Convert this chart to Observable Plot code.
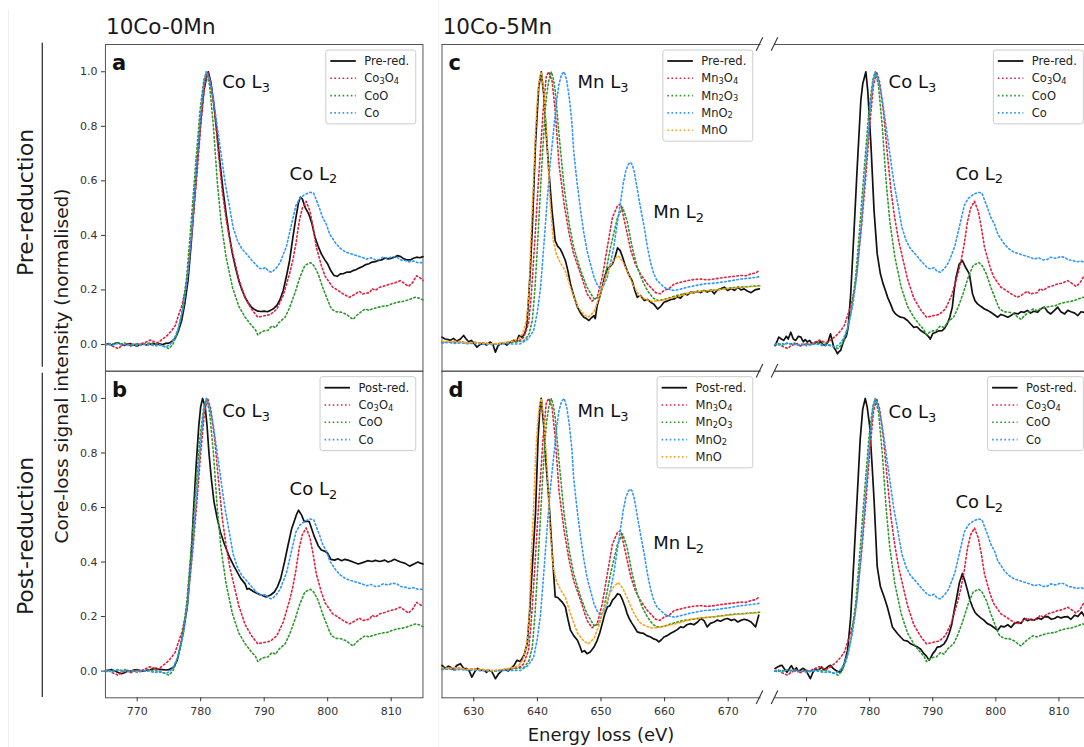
<!DOCTYPE html>
<html><head><meta charset="utf-8">
<script src="https://cdn.jsdelivr.net/npm/d3@7"></script>
<script src="https://cdn.jsdelivr.net/npm/@observablehq/plot@0.6"></script>
<style>
html,body{margin:0;padding:0;background:#fff;overflow:hidden;}
#fig{position:relative;width:1084px;height:747px;overflow:hidden;background:#fff;font-family:"DejaVu Sans";}
</style></head><body><div id="fig"></div>
<script>
// ---------- reference spectra (Co L edge) ----------
const co3o4 = [[765,0.0],[765.5,0.005],[766,-0.005],[766.5,-0.01],[767,-0.015],[767.5,-0.005],[768,0.0],[768.5,0.003],[769,-0.006],[769.5,0.0],[770,0.002],[770.5,0.0],[771,0.006],[771.5,0.01],[772,0.016],[772.5,0.012],[773,0.006],[773.5,0.01],[774,0.02],[774.6,0.03],[775.4,0.05],[776,0.07],[776.4,0.1],[777,0.14],[777.6,0.2],[778,0.27],[778.7,0.43],[779.4,0.62],[780,0.8],[780.6,0.95],[781.1,1.0],[781.6,0.96],[782.2,0.85],[782.8,0.7],[783.4,0.56],[784,0.46],[784.6,0.38],[785.3,0.31],[786,0.24],[787,0.17],[788,0.13],[789,0.1],[790,0.105],[791,0.11],[792,0.13],[793,0.18],[794,0.26],[794.5,0.308],[795,0.37],[795.5,0.45],[796,0.5],[796.6,0.525],[797.2,0.49],[797.7,0.43],[798.2,0.357],[799,0.29],[799.6,0.25],[800.8,0.21],[801.5,0.2],[802.4,0.186],[803.4,0.173],[804,0.18],[805,0.195],[805.5,0.185],[806,0.188],[806.6,0.19],[807,0.205],[807.5,0.198],[808.2,0.21],[809,0.215],[809.8,0.222],[810.5,0.225],[811.4,0.234],[812,0.225],[812.7,0.213],[813.3,0.225],[814,0.252],[814.5,0.245],[815,0.235]];
const coo = [[765,0.0],[765.5,-0.003],[766,0.004],[766.5,0.0],[767,0.005],[767.5,0.002],[768,0.006],[768.5,0.0],[769,-0.004],[769.5,0.0],[770,0.003],[770.5,-0.002],[771,0.0],[771.5,0.004],[772,0.006],[772.5,0.0],[773,0.002],[773.5,-0.003],[774,-0.005],[774.5,-0.01],[775,-0.015],[775.6,0.0],[776.3,0.04],[777,0.11],[777.8,0.25],[778.5,0.45],[779.2,0.66],[779.9,0.86],[780.5,0.97],[780.9,1.0],[781.4,0.95],[782,0.8],[782.6,0.6],[783.2,0.45],[784,0.32],[785,0.21],[786,0.14],[787,0.1],[788,0.07],[788.6,0.055],[789,0.035],[789.5,0.045],[790,0.05],[790.6,0.052],[791.2,0.068],[791.8,0.062],[792.3,0.08],[793.3,0.1],[794,0.135],[794.8,0.186],[795.6,0.245],[796.4,0.29],[797.3,0.3],[797.8,0.29],[798.5,0.259],[799.2,0.21],[799.6,0.186],[800.3,0.145],[800.6,0.13],[801.3,0.12],[802.2,0.118],[803,0.11],[803.5,0.1],[804,0.092],[804.5,0.105],[805,0.115],[805.9,0.13],[806.5,0.125],[807,0.13],[808,0.137],[808.7,0.14],[809.4,0.142],[810.1,0.149],[811,0.155],[811.9,0.158],[812.5,0.162],[813.2,0.168],[813.8,0.173],[814.4,0.17],[815,0.163]];
const coMetal = [[765,0.0],[765.5,0.004],[766,-0.005],[766.5,0.002],[767,0.005],[767.5,0.0],[768,0.0],[768.5,-0.003],[769,0.002],[769.5,0.0],[770,-0.005],[770.5,0.0],[771,0.002],[771.5,0.0],[772,0.0],[772.5,-0.004],[773,-0.005],[773.5,0.0],[774,-0.006],[774.6,-0.008],[775.2,0.0],[775.8,0.02],[776.5,0.06],[777.3,0.14],[778,0.26],[778.7,0.44],[779.4,0.66],[780,0.84],[780.5,0.96],[780.9,1.0],[781.4,0.97],[782,0.9],[782.6,0.8],[783.2,0.7],[783.8,0.6],[784.5,0.51],[785.1,0.43],[785.8,0.38],[786.5,0.35],[787.3,0.33],[788,0.31],[788.6,0.295],[789.2,0.28],[789.7,0.277],[790.2,0.282],[790.7,0.268],[791.2,0.265],[791.9,0.28],[792.5,0.3],[793,0.33],[793.5,0.36],[794,0.41],[794.5,0.46],[795,0.51],[795.6,0.535],[796.4,0.55],[797.2,0.558],[797.8,0.555],[798.2,0.53],[798.7,0.5],[799.2,0.466],[799.8,0.44],[800.3,0.405],[801.3,0.37],[802,0.352],[802.9,0.338],[803.6,0.333],[804.5,0.326],[805.4,0.32],[806.1,0.313],[806.8,0.318],[807.5,0.31],[808.2,0.312],[808.7,0.32],[809.5,0.316],[810.2,0.322],[810.9,0.32],[811.5,0.31],[812.2,0.308],[812.8,0.303],[813.5,0.306],[814.2,0.3],[815,0.3]];
// ---------- reference spectra (Mn L edge) ----------
const mn3o4 = [[625,0.01],[626,0.008],[627,0.012],[628,0.01],[629,0.005],[630,0.008],[631,0.006],[632,0.004],[633,0.0],[634,0.002],[635,0.006],[636,0.01],[637,0.012],[637.8,0.025],[638.6,0.076],[639,0.17],[639.4,0.31],[639.8,0.46],[640.2,0.613],[640.6,0.75],[640.9,0.857],[641.4,0.985],[641.8,1.0],[642.3,0.967],[642.8,0.857],[643.4,0.66],[644.2,0.515],[645,0.405],[645.7,0.332],[646.8,0.259],[647.8,0.186],[648.6,0.159],[649.4,0.173],[650.2,0.247],[651,0.357],[651.8,0.466],[652.6,0.509],[653.1,0.515],[653.9,0.43],[654.7,0.344],[655.4,0.295],[656.2,0.259],[657.3,0.222],[658.6,0.19],[659.3,0.186],[659.9,0.198],[660.7,0.205],[661.5,0.222],[662.5,0.228],[663.6,0.234],[664.6,0.238],[665.7,0.24],[666.7,0.237],[667.8,0.24],[668.8,0.244],[669.9,0.247],[671,0.25],[672,0.253],[672.8,0.252],[673.6,0.259],[674.3,0.262],[675,0.273]];
const mn2o3 = [[625,0.008],[626,0.01],[627,0.006],[628,0.008],[629,0.004],[630,0.006],[631,0.004],[632,0.002],[633,0.0],[634,0.003],[635,0.005],[636,0.008],[637,0.01],[638,0.015],[638.7,0.04],[639.2,0.088],[639.6,0.2],[640,0.357],[640.4,0.53],[640.8,0.698],[641.1,0.81],[641.4,0.906],[641.8,0.97],[642.2,1.0],[642.5,0.975],[642.8,0.93],[643.4,0.77],[644.2,0.576],[645,0.442],[645.7,0.357],[646.8,0.271],[647.8,0.21],[648.9,0.167],[649.7,0.173],[650.5,0.234],[651.5,0.357],[652.6,0.466],[653.4,0.503],[654.1,0.454],[654.9,0.357],[655.7,0.283],[656.5,0.234],[657.3,0.198],[658.2,0.17],[659,0.161],[660,0.165],[661,0.173],[662,0.18],[663,0.186],[664.5,0.19],[666,0.196],[667.5,0.198],[669,0.203],[670.5,0.208],[672,0.21],[673.5,0.213],[675,0.216]];
const mno2 = [[625,0.005],[626,0.008],[627,0.004],[628,0.006],[629,0.003],[630,0.004],[631,0.002],[632,0.0],[633,0.002],[634,0.0],[635,0.003],[636,0.002],[637.3,0.002],[638.5,0.02],[639.4,0.05],[640,0.12],[640.5,0.21],[641,0.36],[641.5,0.515],[642,0.66],[642.6,0.796],[643,0.89],[643.4,0.955],[643.8,0.99],[644.2,1.0],[644.6,0.97],[645,0.906],[645.4,0.82],[645.7,0.71],[646.2,0.6],[646.8,0.49],[647.3,0.41],[647.8,0.344],[648.4,0.29],[648.9,0.247],[649.4,0.22],[649.9,0.204],[650.4,0.215],[651,0.247],[651.5,0.3],[652,0.357],[652.6,0.45],[653.1,0.527],[653.5,0.59],[653.9,0.637],[654.3,0.66],[654.6,0.668],[654.9,0.66],[655.2,0.637],[655.7,0.57],[656.2,0.503],[656.8,0.43],[657.3,0.357],[657.8,0.3],[658.3,0.259],[658.8,0.235],[659.4,0.222],[659.9,0.21],[660.4,0.204],[661,0.2],[661.5,0.198],[662.5,0.203],[663.6,0.21],[664.6,0.215],[665.5,0.219],[666.2,0.222],[667.5,0.224],[668.8,0.228],[670,0.232],[671,0.236],[672,0.24],[673.2,0.243],[674.6,0.247],[675,0.25]];
const mno = [[625,0.012],[626,0.01],[627,0.012],[628,0.009],[629,0.006],[630,0.008],[631,0.005],[632,0.004],[633,0.002],[634,0.005],[635,0.008],[636,0.012],[637,0.02],[637.7,0.04],[638.3,0.09],[638.7,0.2],[639,0.4],[639.4,0.6],[639.7,0.78],[640,0.9],[640.3,0.97],[640.6,1.0],[641,0.93],[641.5,0.75],[642,0.52],[642.5,0.38],[643,0.33],[643.6,0.3],[644.4,0.27],[645.2,0.21],[646.3,0.14],[647.3,0.11],[648,0.1],[648.9,0.12],[649.7,0.17],[650.5,0.23],[651.3,0.28],[652,0.31],[652.7,0.325],[653.4,0.305],[654.1,0.27],[655,0.22],[656,0.18],[657,0.165],[658,0.158],[659,0.16],[660,0.165],[661,0.17],[662,0.175],[663,0.182],[664,0.19],[665,0.193],[666,0.195],[667,0.198],[668,0.2],[669,0.202],[670,0.205],[671,0.207],[672,0.21],[673.5,0.212],[675,0.215]];
// ---------- measured spectra ----------
const preRed0Mn = [[765,0.0],[765.5,0.003],[766,-0.002],[766.5,0.004],[767,0.006],[767.5,0.0],[768,-0.004],[768.5,0.002],[769,0.003],[769.5,-0.002],[770,-0.006],[770.5,0.0],[771,0.002],[771.5,-0.002],[772,0.001],[772.5,0.004],[773,0.0],[773.5,0.002],[774,0.0],[774.5,0.004],[775,0.005],[775.5,0.012],[776,0.023],[776.5,0.05],[777,0.088],[777.5,0.15],[778,0.234],[778.5,0.37],[779,0.527],[779.5,0.68],[780,0.82],[780.5,0.93],[781,0.99],[781.2,1.0],[781.6,0.96],[782,0.894],[782.5,0.79],[783,0.674],[783.5,0.57],[784,0.479],[784.5,0.4],[785,0.332],[785.5,0.28],[786,0.234],[786.5,0.2],[787,0.173],[787.5,0.152],[788,0.137],[788.5,0.128],[789,0.122],[789.5,0.121],[790,0.122],[790.5,0.12],[791,0.125],[791.5,0.132],[792,0.143],[792.5,0.165],[793,0.198],[793.5,0.25],[794,0.308],[794.5,0.39],[795,0.466],[795.4,0.52],[795.7,0.54],[796,0.534],[796.5,0.5],[797,0.479],[797.5,0.445],[798,0.393],[798.5,0.36],[799,0.332],[799.5,0.312],[800,0.295],[800.5,0.27],[801,0.253],[801.5,0.25],[802,0.259],[802.5,0.26],[803,0.265],[803.5,0.265],[804,0.271],[804.5,0.275],[805,0.281],[805.5,0.286],[806,0.293],[806.5,0.296],[807,0.302],[807.5,0.304],[808,0.308],[808.5,0.31],[809,0.317],[809.5,0.314],[810,0.316],[810.5,0.32],[811,0.326],[811.5,0.322],[812,0.314],[812.5,0.31],[813,0.31],[813.5,0.316],[814,0.32],[814.5,0.318],[815,0.322]];
const postRed0Mn = [[765,0.0],[765.5,0.004],[766,0.005],[766.5,0.0],[767,-0.005],[767.5,-0.01],[768,-0.006],[768.5,0.0],[769,0.0],[769.5,0.004],[770,0.005],[770.5,0.002],[771,0.0],[771.5,0.003],[772,0.005],[772.5,0.008],[773,0.01],[773.5,0.006],[774,0.005],[774.5,0.004],[775,0.005],[775.4,0.01],[775.8,0.015],[776.3,0.04],[776.8,0.09],[777.3,0.15],[777.9,0.24],[778.5,0.42],[778.9,0.6],[779.3,0.76],[779.7,0.9],[780,0.97],[780.3,1.0],[780.7,0.97],[781,0.9],[781.3,0.8],[781.7,0.7],[782.1,0.62],[782.6,0.56],[783.1,0.51],[783.7,0.468],[784.5,0.42],[785.3,0.382],[786.3,0.34],[787,0.32],[787.3,0.3],[787.6,0.303],[788.3,0.292],[788.9,0.285],[789.5,0.279],[790,0.275],[790.3,0.272],[791,0.279],[791.6,0.29],[792.1,0.31],[792.6,0.34],[793.2,0.4],[793.7,0.456],[794.3,0.52],[794.8,0.554],[795.1,0.575],[795.4,0.59],[795.9,0.572],[796.3,0.548],[796.7,0.55],[797.1,0.548],[797.5,0.52],[797.9,0.493],[798.5,0.46],[799,0.444],[799.5,0.44],[800,0.432],[800.5,0.41],[801.1,0.407],[801.6,0.412],[802.2,0.405],[802.7,0.41],[803.2,0.407],[804,0.4],[804.8,0.393],[805.5,0.398],[806.3,0.405],[807,0.402],[807.5,0.406],[808.2,0.402],[809,0.407],[809.5,0.4],[810,0.404],[810.5,0.41],[811,0.405],[811.5,0.4],[812.2,0.395],[812.9,0.385],[813.5,0.392],[814.2,0.4],[814.6,0.396],[815,0.393]];
const preRed5MnMn = [[625,0.027],[625.5,0.02],[626,0.018],[626.3,0.015],[626.8,0.022],[627.3,0.012],[627.9,0.02],[628.4,0.033],[628.8,0.02],[629.2,0.01],[629.6,0.015],[630,0.005],[630.5,-0.01],[631,0.0],[631.5,0.005],[632,-0.002],[632.6,0.009],[633,0.0],[633.4,-0.028],[633.8,-0.005],[634.2,0.002],[634.7,0.006],[635.2,-0.002],[635.7,0.008],[636.3,0.015],[636.7,0.01],[637.1,0.033],[637.6,0.026],[638,0.04],[638.3,0.063],[638.6,0.16],[638.9,0.28],[639.2,0.43],[639.7,0.735],[640.2,0.943],[640.6,1.0],[641,0.918],[641.4,0.77],[641.8,0.637],[642.3,0.49],[642.8,0.38],[643.2,0.36],[643.6,0.35],[644,0.33],[644.4,0.308],[644.8,0.27],[645.2,0.222],[645.7,0.18],[646.3,0.137],[646.8,0.115],[647.3,0.1],[647.7,0.095],[648.1,0.088],[648.5,0.098],[648.9,0.106],[649.1,0.095],[649.4,0.143],[649.8,0.175],[650.2,0.21],[650.6,0.25],[651,0.277],[651.4,0.285],[651.8,0.295],[652.2,0.32],[652.6,0.354],[653,0.345],[653.4,0.32],[653.8,0.29],[654.1,0.271],[654.5,0.25],[654.9,0.234],[655.3,0.2],[655.7,0.173],[656.2,0.18],[656.8,0.161],[657.3,0.165],[657.8,0.155],[658.3,0.148],[658.9,0.13],[659.4,0.14],[659.9,0.155],[660.5,0.16],[661,0.165],[661.5,0.167],[662,0.175],[662.5,0.17],[663.1,0.186],[663.6,0.182],[664.1,0.192],[664.6,0.19],[665.2,0.195],[665.7,0.19],[666.2,0.198],[666.7,0.192],[667.3,0.2],[667.8,0.186],[668.3,0.2],[668.9,0.205],[669.4,0.21],[669.9,0.198],[670.5,0.205],[671,0.198],[671.5,0.21],[672,0.2],[672.5,0.204],[673,0.196],[673.6,0.19],[674.2,0.2],[674.9,0.204]];
const preRed5MnCo = [[765,-0.004],[765.3,0.01],[765.6,0.027],[766,0.02],[766.4,0.015],[766.8,0.03],[767.1,0.02],[767.5,0.045],[767.9,0.02],[768.3,0.015],[768.7,0.03],[769.1,0.027],[769.5,0.01],[769.8,0.018],[770.1,0.009],[770.5,0.015],[770.8,0.004],[771.2,0.002],[771.6,0.01],[772,0.005],[772.2,0.012],[772.6,0.0],[773,-0.004],[773.4,0.01],[773.8,0.039],[774.1,0.01],[774.3,-0.01],[774.6,-0.02],[774.9,-0.034],[775.2,-0.025],[775.4,-0.022],[775.9,0.015],[776.3,0.03],[776.6,0.063],[777,0.186],[777.5,0.405],[778,0.637],[778.6,0.894],[778.9,0.955],[779.4,1.0],[779.7,0.93],[780.2,0.735],[780.7,0.49],[781.2,0.332],[781.7,0.259],[782.1,0.225],[782.5,0.198],[782.9,0.17],[783.3,0.149],[783.7,0.125],[784.1,0.112],[784.5,0.105],[784.9,0.1],[785.4,0.098],[786,0.088],[786.5,0.075],[787,0.063],[787.5,0.065],[788.1,0.051],[788.5,0.045],[788.9,0.039],[789.3,0.03],[789.6,0.02],[790,0.04],[790.5,0.045],[791,0.05],[791.5,0.051],[791.9,0.06],[792.3,0.076],[792.7,0.1],[793.1,0.137],[793.4,0.2],[793.7,0.247],[794.2,0.295],[794.7,0.308],[795.2,0.283],[795.8,0.259],[796.3,0.186],[796.7,0.16],[797.1,0.149],[797.6,0.14],[798.2,0.13],[798.7,0.125],[799.2,0.118],[799.7,0.11],[800.3,0.1],[800.8,0.11],[801.3,0.106],[801.9,0.1],[802.4,0.106],[802.9,0.115],[803.5,0.112],[804,0.12],[804.5,0.118],[805,0.125],[805.5,0.115],[806,0.122],[806.6,0.118],[807.1,0.13],[807.7,0.137],[808.2,0.12],[808.7,0.112],[809.3,0.125],[809.8,0.137],[810.3,0.12],[810.9,0.112],[811.4,0.125],[811.9,0.12],[812.5,0.115],[813,0.106],[813.5,0.12],[814,0.118],[814.5,0.112],[815,0.12]];
const postRed5MnMn = [[625,0.021],[625.5,0.01],[626,0.018],[626.3,0.015],[626.8,0.005],[627.3,0.02],[627.9,0.027],[628.4,0.01],[628.9,0.009],[629.3,0.0],[629.7,-0.022],[630.2,0.0],[630.6,0.01],[631,0.002],[631.5,0.005],[632,-0.005],[632.3,0.003],[632.8,0.0],[633.4,-0.028],[633.9,-0.01],[634.4,0.002],[634.9,0.006],[635.4,0.0],[635.8,0.009],[636.3,0.02],[636.8,0.04],[637.3,0.035],[637.9,0.058],[638.4,0.101],[638.8,0.223],[639.2,0.383],[639.7,0.579],[640.1,0.85],[640.4,0.97],[640.6,1.0],[641,0.9],[641.4,0.75],[641.8,0.628],[642.3,0.444],[642.8,0.272],[643.2,0.27],[643.6,0.26],[644,0.25],[644.4,0.235],[644.8,0.19],[645.2,0.15],[645.7,0.13],[646.3,0.113],[646.7,0.09],[647,0.07],[647.4,0.075],[647.8,0.064],[648.3,0.07],[648.9,0.088],[649.4,0.113],[649.8,0.14],[650.2,0.174],[650.6,0.21],[651,0.235],[651.4,0.24],[651.8,0.26],[652.2,0.27],[652.6,0.284],[653,0.28],[653.4,0.26],[653.8,0.235],[654.1,0.211],[654.5,0.19],[654.9,0.174],[655.3,0.16],[655.7,0.144],[656.2,0.14],[656.7,0.138],[657.2,0.13],[657.8,0.125],[658.3,0.118],[658.7,0.115],[659.1,0.107],[659.5,0.115],[659.9,0.125],[660.4,0.13],[660.9,0.138],[661.5,0.145],[662,0.152],[662.5,0.162],[663,0.16],[663.5,0.17],[664.1,0.174],[664.6,0.17],[665.2,0.18],[665.7,0.193],[666.2,0.185],[666.7,0.162],[667.2,0.175],[667.8,0.18],[668.3,0.187],[668.8,0.183],[669.4,0.19],[669.9,0.193],[670.5,0.186],[671,0.19],[671.5,0.18],[672,0.186],[672.5,0.19],[673,0.187],[673.6,0.18],[674.3,0.162],[674.8,0.205]];
const postRed5MnCo = [[765,0.009],[765.4,0.015],[765.8,0.02],[766.1,0.021],[766.5,0.008],[766.9,-0.004],[767.3,0.01],[767.6,0.02],[768,0.003],[768.4,0.012],[768.7,0.0],[769,0.003],[769.4,0.01],[769.8,0.005],[770.2,-0.01],[770.6,-0.028],[771,-0.005],[771.4,0.01],[771.7,0.003],[772.1,0.008],[772.4,0.015],[772.7,0.005],[773.1,0.01],[773.5,0.018],[773.8,0.021],[774.2,0.01],[774.6,0.003],[775,-0.002],[775.4,-0.004],[775.9,0.021],[776.5,0.076],[777,0.199],[777.5,0.407],[778,0.628],[778.5,0.85],[778.9,0.96],[779.3,1.0],[779.6,0.97],[780,0.9],[780.4,0.75],[780.7,0.628],[781.2,0.383],[781.7,0.31],[782.3,0.272],[782.8,0.235],[783.2,0.2],[783.6,0.162],[784,0.15],[784.4,0.138],[784.9,0.125],[785.4,0.113],[786,0.11],[786.5,0.1],[787,0.095],[787.6,0.088],[788.1,0.08],[788.6,0.064],[789,0.055],[789.4,0.04],[789.7,0.05],[790,0.064],[790.4,0.075],[790.7,0.088],[791.2,0.09],[791.8,0.1],[792.2,0.115],[792.6,0.138],[793,0.17],[793.4,0.223],[793.8,0.27],[794.2,0.322],[794.7,0.358],[795.1,0.33],[795.5,0.297],[795.9,0.26],[796.3,0.235],[796.7,0.215],[797.1,0.205],[797.6,0.195],[798.1,0.187],[798.6,0.175],[799.2,0.168],[799.7,0.16],[800.3,0.15],[800.8,0.165],[801.3,0.162],[801.9,0.17],[802.4,0.16],[802.9,0.174],[803.5,0.18],[804,0.175],[804.5,0.193],[805,0.185],[805.6,0.19],[806.1,0.187],[806.6,0.195],[807.2,0.19],[807.7,0.199],[808.2,0.2],[808.8,0.19],[809.3,0.193],[809.8,0.2],[810.3,0.195],[810.9,0.199],[811.4,0.2],[811.9,0.19],[812.5,0.205],[813,0.2],[813.6,0.217],[814.1,0.199],[814.6,0.21],[815,0.2]];
// ---------- ticks & labels ----------
const coTicks = [770, 780, 790, 800, 810];
const mnTicks = [630, 640, 650, 660, 670];
const yTicks = [0, 0.2, 0.4, 0.6, 0.8, 1.0];
const coRefNames = ["Co₃O₄", "CoO", "Co"];
const mnRefNames = ["Mn₃O₄", "Mn₂O₃", "MnO₂", "MnO"];

// ---------- layout / style ----------
const FW = 1090, FH = 747;
const coDomain = [765, 815], mnDomain = [625, 675], yDomain = [-0.098, 1.1];
const cols = {a: [104.95, 422.45], mn: [441.5, 759.5], co: [774.5, 1090]};
const rows = {pre: [44, 370.7], post: [370.7, 697.3]};
const RED = "#e0203f", GREEN = "#2b9a2b", BLUE = "#2f96ff", ORANGE = "#ffa21a", BLACK = "#111";
const coRefs = [{d: co3o4, c: RED}, {d: coo, c: GREEN}, {d: coMetal, c: BLUE}];
const mnRefs = [{d: mn3o4, c: RED}, {d: mn2o3, c: GREEN}, {d: mno2, c: BLUE}, {d: mno, c: ORANGE}];

const fig = document.getElementById("fig");
const SUBS = "₀₁₂₃₄₅₆₇₈₉";
const NS = "http://www.w3.org/2000/svg";
// render unicode subscript digits as smaller, lowered digits (like mathtext)
function subify(el, F) {
  const s = el.textContent;
  if (![...s].some(c => SUBS.includes(c))) return;
  const runs = [];
  for (const ch of s) {
    const sub = SUBS.includes(ch);
    const c = sub ? String(SUBS.indexOf(ch)) : ch;
    if (runs.length && runs[runs.length - 1].sub === sub) runs[runs.length - 1].t += c;
    else runs.push({t: c, sub});
  }
  while (el.firstChild) el.removeChild(el.firstChild);
  let down = false;
  const sh = 0.22 * F;
  runs.forEach(r => {
    const ts = document.createElementNS(NS, "tspan");
    ts.textContent = r.t;
    if (r.sub) { ts.setAttribute("font-size", 0.72 * F); ts.setAttribute("dy", sh); down = true; }
    else if (down) { ts.setAttribute("dy", -sh); down = false; }
    el.appendChild(ts);
  });
}

function panel(p) {
  const [x0, x1] = p.col, [y0, y1] = p.row;
  const marks = [];
  p.sides.forEach(s => marks.push(s === "all" ? Plot.frame({stroke: "#555"}) : Plot.frame({anchor: s, stroke: "#555"})));
  if (p.yAxis) marks.push(Plot.axisY({ticks: yTicks, tickFormat: d => d.toFixed(1), tickSize: 4, tickPadding: 4, fontSize: 11, label: null}));
  if (p.xAxis) marks.push(Plot.axisX({ticks: p.ticks, tickFormat: d => String(d), tickSize: 4, tickPadding: 5, fontSize: 11, label: null}));
  marks.push(Plot.line(p.sample, {x: d => d[0], y: d => d[1], stroke: BLACK, strokeWidth: 1.7}));
  p.refs.forEach(r => marks.push(Plot.line(r.d, {x: d => d[0], y: d => d[1], stroke: r.c, strokeWidth: 1.6, strokeDasharray: "1.6,2.5"})));
  marks.push(Plot.text(p.notes, {x: "x", y: "y", text: "t", textAnchor: "start", lineAnchor: "middle", fontSize: 18, fill: "#111", className: "note"}));
  if (p.letter) marks.push(Plot.text([p.letter], {text: d => d, frameAnchor: "top-left", dx: 6.5, dy: 10.5, lineAnchor: "top", textAnchor: "start", fontSize: 21, fontWeight: "bold", fill: "#111"}));
  const svg = Plot.plot({
    width: FW, height: FH,
    marginLeft: x0, marginRight: FW - x1, marginTop: y0, marginBottom: FH - y1,
    x: {domain: p.xDomain, axis: p.xAxis ? undefined : null},
    y: {domain: yDomain, axis: p.yAxis ? undefined : null},
    style: "position:absolute;left:0;top:0;background:transparent;max-width:none;overflow:hidden;font-family:'DejaVu Sans';color:#333;",
    marks
  });
  fig.appendChild(svg);
  svg.querySelectorAll("text").forEach(t => subify(t, 18));
}

panel({col: cols.a, row: rows.pre, xDomain: coDomain, sides: ["all"], yAxis: true, xAxis: false, sample: preRed0Mn, refs: coRefs, letter: "a",
  notes: [{x: 783.4, y: 0.962, t: "Co L₃"}, {x: 794.0, y: 0.626, t: "Co L₂"}]});
panel({col: cols.a, row: rows.post, xDomain: coDomain, sides: ["all"], yAxis: true, xAxis: true, ticks: coTicks, sample: postRed0Mn, refs: coRefs, letter: "b",
  notes: [{x: 783.4, y: 0.952, t: "Co L₃"}, {x: 794.0, y: 0.668, t: "Co L₂"}]});
panel({col: cols.mn, row: rows.pre, xDomain: mnDomain, sides: ["left", "top", "bottom"], yAxis: false, xAxis: false, sample: preRed5MnMn, refs: mnRefs, letter: "c",
  notes: [{x: 646.3, y: 0.962, t: "Mn L₃"}, {x: 658.2, y: 0.485, t: "Mn L₂"}]});
panel({col: cols.mn, row: rows.post, xDomain: mnDomain, sides: ["left", "top", "bottom"], yAxis: false, xAxis: true, ticks: mnTicks, sample: postRed5MnMn, refs: mnRefs, letter: "d",
  notes: [{x: 646.3, y: 0.952, t: "Mn L₃"}, {x: 658.2, y: 0.469, t: "Mn L₂"}]});
panel({col: cols.co, row: rows.pre, xDomain: coDomain, sides: ["top", "bottom", "right"], yAxis: false, xAxis: false, sample: preRed5MnCo, refs: coRefs, letter: null,
  notes: [{x: 783.0, y: 0.962, t: "Co L₃"}, {x: 793.6, y: 0.626, t: "Co L₂"}]});
panel({col: cols.co, row: rows.post, xDomain: coDomain, sides: ["top", "bottom", "right"], yAxis: false, xAxis: true, ticks: coTicks, sample: postRed5MnCo, refs: coRefs, letter: null,
  notes: [{x: 783.0, y: 0.949, t: "Co L₃"}, {x: 793.6, y: 0.62, t: "Co L₂"}]});

// ---------- overlay: titles, labels, legends, break marks ----------
const ov = d3.select(fig).append("svg")
  .attr("width", 1084).attr("height", 747)
  .style("position", "absolute").style("left", "0").style("top", "0")
  .style("font-family", "'DejaVu Sans'");

// faint composition borders
ov.append("line").attr("x1", 8.5).attr("x2", 8.5).attr("y1", 10).attr("y2", 747).attr("stroke", "#eeeeee");
ov.append("line").attr("x1", 438.5).attr("x2", 438.5).attr("y1", 0).attr("y2", 747).attr("stroke", "#f2f2f2");

ov.append("text").attr("x", 106).attr("y", 34).attr("font-size", 21.5).attr("fill", "#1a1a1a").text("10Co-0Mn");
ov.append("text").attr("x", 442.7).attr("y", 34).attr("font-size", 21.5).attr("fill", "#1a1a1a").text("10Co-5Mn");

ov.append("text").attr("transform", "translate(33,202.5) rotate(-90)").attr("text-anchor", "middle").attr("font-size", 22).attr("fill", "#1a1a1a").text("Pre-reduction");
ov.append("text").attr("transform", "translate(32.5,536) rotate(-90)").attr("text-anchor", "middle").attr("font-size", 22).attr("fill", "#1a1a1a").text("Post-reduction");
ov.append("line").attr("x1", 42.3).attr("x2", 42.3).attr("y1", 42.7).attr("y2", 366.7).attr("stroke", "#333").attr("stroke-width", 1.3);
ov.append("line").attr("x1", 42.3).attr("x2", 42.3).attr("y1", 372.7).attr("y2", 697).attr("stroke", "#333").attr("stroke-width", 1.3);

ov.append("text").attr("transform", "translate(67.5,366) rotate(-90)").attr("text-anchor", "middle").attr("font-size", 18.5).attr("fill", "#1a1a1a").text("Core-loss signal intensity (normalised)");
ov.append("text").attr("x", 601).attr("y", 740.7).attr("text-anchor", "middle").attr("font-size", 18).attr("fill", "#1a1a1a").text("Energy loss (eV)");

// break marks
[cols.mn[1], cols.co[0]].forEach(x => [rows.pre[0], rows.pre[1], rows.post[1]].forEach(y => {
  ov.append("line").attr("x1", x - 3.3).attr("y1", y + 6.7).attr("x2", x + 3.3).attr("y2", y - 6.7).attr("stroke", "#333").attr("stroke-width", 1.1);
}));

function legend(col, row, entries) {
  const right = Math.min(col[1], 1090) - 6.7, top = row[0] + 6;
  const g = ov.append("g");
  const box = g.append("rect");
  const texts = entries.map((e, i) => {
    const t = g.append("text").attr("y", top + 11 + i * 17.3).attr("dominant-baseline", "central").attr("font-size", 11.5).attr("fill", "#222").text(e.label);
    subify(t.node(), 11.5);
    return t;
  });
  const tw = d3.max(texts, t => t.node().getComputedTextLength());
  const w = 38.5 + tw + 6.5, left = right - w, h = 22 + 17.3 * (entries.length - 1);
  box.attr("x", left).attr("y", top).attr("width", w).attr("height", h).attr("rx", 2.5)
    .attr("fill", "white").attr("fill-opacity", 0.85).attr("stroke", "#cccccc").attr("stroke-width", 1);
  texts.forEach(t => t.attr("x", left + 38.5));
  entries.forEach((e, i) => {
    const y = top + 11 + i * 17.3;
    const ln = g.append("line").attr("x1", left + 4.5).attr("x2", left + 30).attr("y1", y).attr("y2", y).attr("stroke", e.color).attr("stroke-width", e.dotted ? 1.6 : 1.8);
    if (e.dotted) ln.attr("stroke-dasharray", "1.6,2.5");
  });
}
const coEntries = (first) => [{label: first, color: BLACK}].concat(coRefNames.map((n, i) => ({label: n, color: coRefs[i].c, dotted: true})));
const mnEntries = (first) => [{label: first, color: BLACK}].concat(mnRefNames.map((n, i) => ({label: n, color: mnRefs[i].c, dotted: true})));
legend(cols.a, rows.pre, coEntries("Pre-red."));
legend(cols.a, rows.post, coEntries("Post-red."));
legend(cols.mn, rows.pre, mnEntries("Pre-red."));
legend(cols.mn, rows.post, mnEntries("Post-red."));
legend(cols.co, rows.pre, coEntries("Pre-red."));
legend(cols.co, rows.post, coEntries("Post-red."));
</script></body></html>
